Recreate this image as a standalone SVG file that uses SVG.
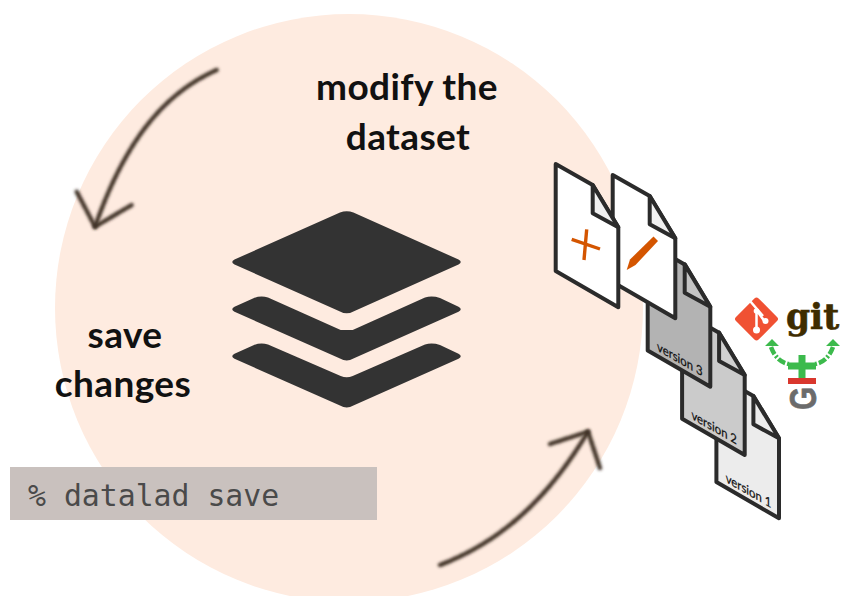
<svg xmlns="http://www.w3.org/2000/svg" width="841" height="596" viewBox="0 0 841 596">
<style>
.lbl{font-family:"Lato","Open Sans",sans-serif;font-weight:700;font-size:37px;letter-spacing:.4px;fill:#111;text-anchor:middle}
.page{stroke:#2b2b2b;stroke-width:4;stroke-linejoin:round;fill:none}
.ver{font-family:"Lato","Liberation Sans",sans-serif;font-size:13px;fill:#111;stroke:#111;stroke-width:.25}
.arrow{fill:none;stroke:#3f3026;stroke-width:4.400;stroke-linecap:round;stroke-linejoin:round;filter:url(#soft);stroke-dasharray:5 2}
.stack{fill:#333}
</style>
<defs>
<filter id="soft" x="-20%" y="-20%" width="140%" height="140%"><feGaussianBlur stdDeviation="1.600"/></filter>
<path id="sheet" d="M555.700 164L592.700 185L618.300 227.300V307.300L555.700 271Z"/>
<path id="fold" d="M592.700 185V213.300L618.300 227.300Z"/>
</defs>
<circle id="bg" cx="349" cy="308" r="294" fill="#feebe0"/>
<g id="connectors">
<path class="arrow" d="M216.700 70C158 96 122 150 95 226.700"/>
<path class="arrow" d="M76.700 191.700L95 226.700L131.700 205"/>
<path class="arrow" d="M440 565C505 540 550 495 588 431.700"/>
<path class="arrow" d="M550 444L588 431.700L600 468"/>
</g>
<g id="label-modify"><text class="lbl" x="407" y="100">modify the</text><text class="lbl" x="408" y="150">dataset</text></g>
<g id="label-save"><text class="lbl" x="125" y="348">save</text><text class="lbl" x="123" y="397">changes</text></g>
<g id="command"><rect x="10" y="467" width="367" height="53" fill="#c9c1be"/>
<text x="28" y="506" font-family="'DejaVu Sans Mono',monospace" font-size="29.800" fill="#4a4a4a">% datalad save</text></g>
<g id="stack">
<path class="stack" d="M340 212.500Q346.700 209.800 353.400 212.500L458.500 259.500Q463 262 458.500 264.500L353.400 311.500Q346.700 315.200 340 311.500L234.500 264.500Q230 262 234.500 259.500Z"/>
<path class="stack" d="M234.500 306.800L254 298Q261 295.300 268 297.500L340.700 330H352.700L425 297.500Q432 295.300 440 298L458.500 306.800Q463 309.300 458.500 311.800L353.400 358.500Q346.700 362.500 340 358.500L234.500 311.800Q230 309.300 234.500 306.800Z"/>
<path class="stack" d="M234.500 353.800L254 345Q261 342.300 268 344.500L340.700 376Q346.700 378.500 352.700 376L425 344.500Q432 342.300 440 345L458.500 353.800Q463 356.300 458.500 358.800L353.400 405.500Q346.700 409.500 340 405.500L234.500 358.800Q230 356.300 234.500 353.800Z"/>
</g>
<g id="version-1" transform="translate(160.700 211)">
<use href="#sheet" class="page" style="fill:#ececec"/><use href="#fold" class="page" style="fill:#ececec"/>
<text class="ver" transform="matrix(.87 .5 0 1 565 271)">version 1</text></g>
<g id="version-2" transform="translate(126.400 147.700)">
<use href="#sheet" class="page" style="fill:#cbcbcb"/><use href="#fold" class="page" style="fill:#d0d0d0"/>
<text class="ver" transform="matrix(.87 .5 0 1 565 271)">version 2</text></g>
<g id="version-3" transform="translate(92 79.400)">
<use href="#sheet" class="page" style="fill:#b3b3b3"/><use href="#fold" class="page" style="fill:#c4c4c4"/>
<text class="ver" transform="matrix(.87 .5 0 1 565 271)">version 3</text></g>
<g id="file-edit" transform="translate(57 11)">
<use href="#sheet" class="page" style="fill:#fff"/><use href="#fold" class="page" style="fill:#f0f0f0"/></g>
<path id="pencil" d="M626.700 270L630 259.500L653.500 236.500L658 241L635.500 265Z" fill="#d45500"/>
<g id="file-add">
<use href="#sheet" class="page" style="fill:#fff"/><use href="#fold" class="page" style="fill:#f0f0f0"/>
<path d="M571.700 239.300L600 249M586.700 229.300L584 260" stroke="#d45500" stroke-width="3.400" fill="none"/></g>
<g id="git-logo">
<rect x="740.500" y="303" width="32" height="32" rx="3" transform="rotate(45 756.500 319)" fill="#f05133"/>
<path d="M750 301L763 316M756.500 308V331M756.500 310L765 322" stroke="#fff" stroke-width="2.500" fill="none"/>
<circle cx="756.500" cy="330" r="3.500" fill="#fff"/><circle cx="756.500" cy="311" r="2.800" fill="#fff"/><circle cx="765.500" cy="321" r="3" fill="#fff"/>
<text x="786" y="329" font-family="'DejaVu Serif',serif" font-weight="700" font-size="34.500" fill="#3e2c00" stroke="#3e2c00" stroke-width=".6">git</text>
</g>
<g id="annex-logo">
<path d="M771 347C775 358 782 363 789 364M833 347C829 358 822 363 815 364" fill="none" stroke="#3cba4c" stroke-width="4.500" stroke-dasharray="8 2 2 2"/>
<path d="M765 346L772 339L779 346ZM826 346L833 339L840 346Z" fill="#3cba4c"/>
<path d="M788 366H816M802 355V378" stroke="#3cba4c" stroke-width="7" fill="none"/>
<rect x="788" y="378" width="28" height="6" fill="#d9372d"/>
<text transform="translate(816 410) rotate(-90)" font-family="'Liberation Sans',sans-serif" font-weight="700" font-size="37" fill="#6b6b6b" stroke="#6b6b6b" stroke-width=".8" textLength="23" lengthAdjust="spacingAndGlyphs">G</text>
</g>
</svg>
